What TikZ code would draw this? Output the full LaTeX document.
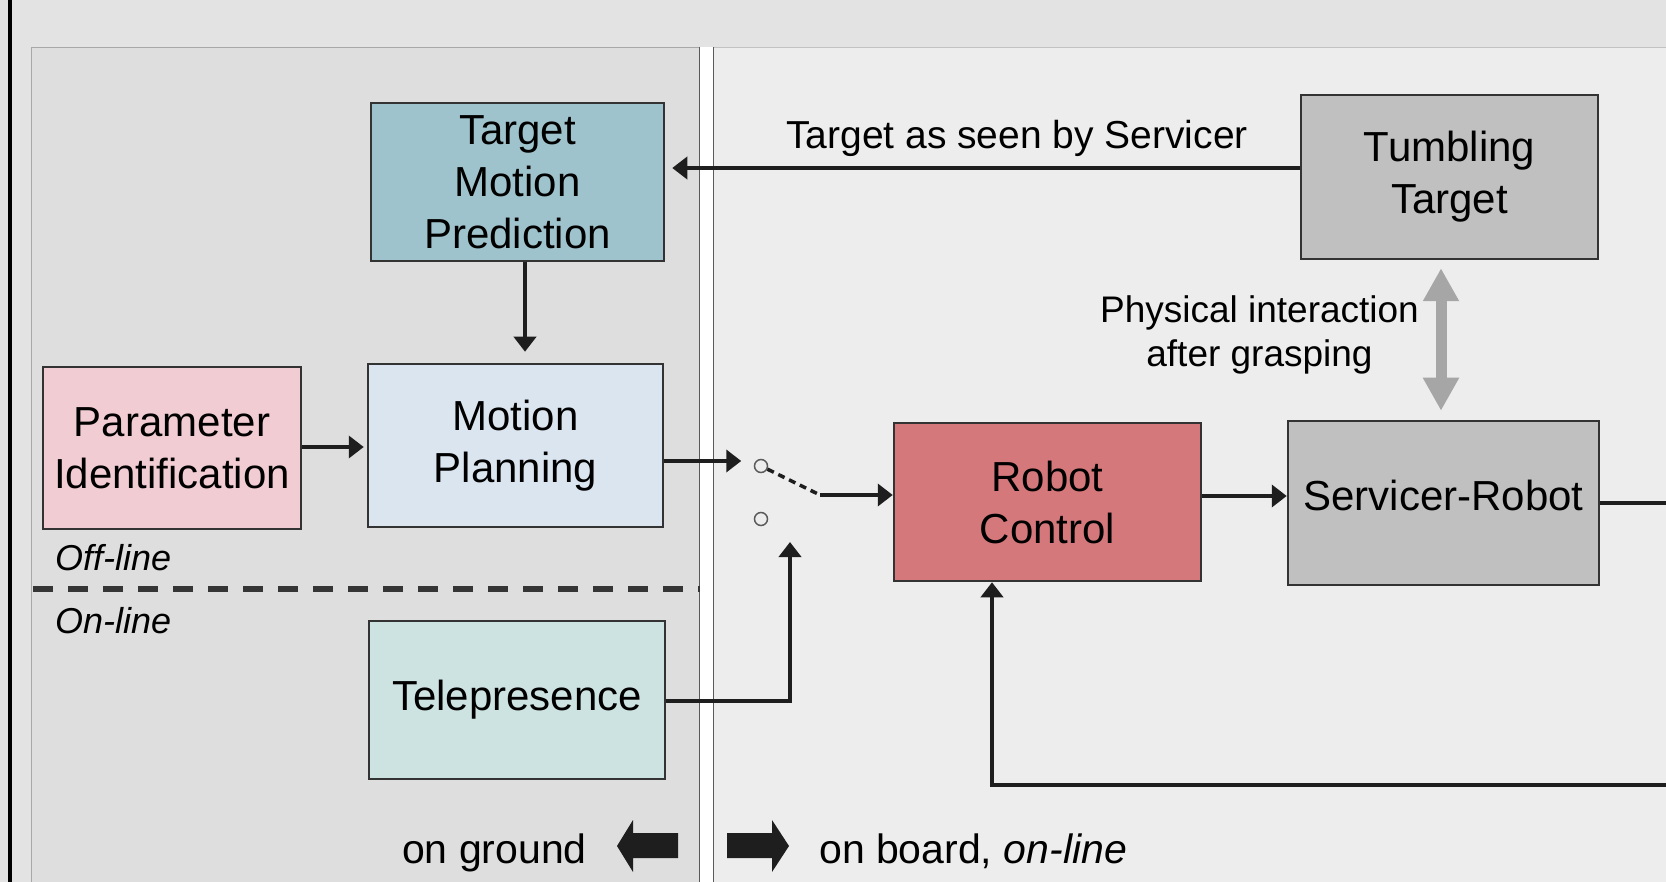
\documentclass[tikz,border=0pt]{standalone}
\usepackage{fontspec}
\setmainfont{Liberation Sans}
\usetikzlibrary{arrows.meta}

\definecolor{bgtop}{HTML}{E3E3E3}
\definecolor{groundbg}{HTML}{DEDEDE}
\definecolor{boardbg}{HTML}{EDEDED}
\definecolor{panelrule}{HTML}{A8A8A8}
\definecolor{splitrule}{HTML}{5A5A5A}
\definecolor{cTMP}{HTML}{9FC3CC}
\definecolor{cMP}{HTML}{DBE5F0}
\definecolor{cPar}{HTML}{F2CCD3}
\definecolor{cTel}{HTML}{CDE3E1}
\definecolor{cRC}{HTML}{D5787B}
\definecolor{cGray}{HTML}{C0C0C0}
\definecolor{boxline}{HTML}{333333}
\definecolor{ink}{HTML}{1E1E1E}
\definecolor{garrow}{HTML}{A6A6A6}

\newcommand\bxfont{\fontsize{42}{52}\selectfont}
\newcommand\lblfont{\fontsize{39}{44}\selectfont}
\newcommand\pifont{\fontsize{37}{44}\selectfont}
\newcommand\modefont{\fontsize{36}{42}\selectfont\itshape}
\newcommand\sidefont{\fontsize{41}{48}\selectfont}

\tikzset{
  box/.style={draw=boxline, line width=2.5pt, inner sep=0pt, align=center, font=\bxfont},
  wire/.style={line width=4.5pt, draw=ink},
  conn/.style={wire, -{Triangle[length=15pt,width=22pt]}},
  swpin/.style={circle, draw=splitrule, line width=1.5pt, minimum size=13pt, inner sep=0pt},
  swlever/.style={line width=3.5pt, draw=ink, dash pattern=on 7pt off 5pt},
  physarrow/.style={line width=11pt, draw=garrow,
    {Triangle[length=33pt,width=34pt]}-{Triangle[length=33pt,width=34pt]}},
}

\begin{document}
\begin{tikzpicture}[x=1pt,y=-1pt]
\useasboundingbox (0,0) rectangle (1666,882);

% backdrop, ground and board panels
\fill[bgtop] (0,0) rectangle (1666,882);
\fill[black] (8,0) rectangle (11.5,882);
\fill[groundbg] (31,47) rectangle (700,882);
\fill[white] (700,47) rectangle (713,882);
\fill[boardbg] (713,47) rectangle (1666,882);
\draw[panelrule, line width=1pt] (31.5,882) -- (31.5,47.5) -- (700,47.5);
\draw[panelrule!70, line width=1pt] (713,47.5) -- (1666,47.5);
\draw[splitrule, line width=1.8pt] (699.5,47) -- (699.5,882);
\draw[splitrule, line width=1.8pt] (713.5,47) -- (713.5,882);

% off-line / on-line split
\draw[ink!90, line width=5.5pt, dash pattern=on 20pt off 15pt] (33,589) -- (700,589);
\node[font=\modefont, anchor=base west, inner sep=0pt] (offl) at (55,570) {Off-line};
\node[font=\modefont, anchor=base west, inner sep=0pt] (onl) at (55,633) {On-line};

% blocks
\node[box, fill=cTMP, minimum width=293pt, minimum height=158pt] (tmp) at (517.5,182) {Target\\Motion\\Prediction};
\node[box, fill=cMP, minimum width=295pt, minimum height=163pt] (mp) at (515.5,445.5) {Motion\\Planning};
\node[box, fill=cPar, minimum width=258pt, minimum height=162pt] (par) at (172,448) {Parameter\\Identification};
\node[box, fill=cTel, minimum width=296pt, minimum height=158pt] (tel) at (517,700) {Telepresence};
\node[box, fill=cGray, minimum width=297pt, minimum height=164pt] (tt) at (1449.5,177) {Tumbling\\Target};
\node[box, fill=cRC, minimum width=307pt, minimum height=158pt] (rc) at (1047.5,502) {Robot\\Control};
\node[box, fill=cGray, minimum width=311pt, minimum height=164pt, text depth=16pt] (sr) at (1443.5,503) {Servicer-Robot};

% switch
\node[swpin] (s1) at (761,466) {};
\node[swpin] (s2) at (761,519) {};
\coordinate (swk) at (820,495);
\coordinate (telin) at (790,542);
\coordinate (srout) at (1666,503);
\coordinate (fbin) at (1666,785);

% connectors
\draw[conn, shorten >=7pt] (tt.west |- 0,168) -- (tmp.east |- 0,168);
\node[font=\lblfont, anchor=base, inner sep=0pt] (seen) at (1017,149) {Target as seen by Servicer};
\draw[conn, shorten >=11pt] (tmp.south -| 525,0) -- (mp.north -| 525,0);
\draw[conn, shorten >=3pt] (par.east |- 0,447) -- (mp.west |- 0,447);
\draw[conn, shorten >=12.5pt] (mp.east |- 0,461) -- (s1.west |- 0,461);
\draw[swlever] (s1) -- (swk);
\draw[conn] (swk) -- (rc.west |- swk);
\draw[conn] (tel.east |- 0,701) -- (telin |- 0,701) -- (telin);
\draw[conn] (rc.east |- 0,496) -- (sr.west |- 0,496);
\draw[wire] (sr.east |- srout) -- (srout);
\draw[conn] (fbin) -- (992,785) -- (rc.south -| 992,0);

% physical coupling between servicer and target
\draw[physarrow, shorten <=8pt, shorten >=9pt] (tt.south -| 1441,0) -- (sr.north -| 1441,0);
\node[font=\pifont, anchor=base, inner sep=0pt] (pi1) at (1259.5,323) {Physical interaction};
\node[font=\pifont, anchor=base, inner sep=0pt] (pi2) at (1259.5,367) {after grasping};

% ground / board legend
\fill[ink] (617,846) -- (633,820) -- (633,833) -- (678,833) -- (678,858) -- (633,858) -- (633,872) -- cycle;
\fill[ink] (789,846) -- (772,820) -- (772,833) -- (727,833) -- (727,858) -- (772,858) -- (772,872) -- cycle;
\node[font=\sidefont, anchor=base east, inner sep=0pt] (gnd) at (587,863) {on ground};
\node[font=\sidefont, anchor=base west, inner sep=0pt] (brd) at (819,863) {on board, \textit{on-line}};
\end{tikzpicture}
\end{document}
